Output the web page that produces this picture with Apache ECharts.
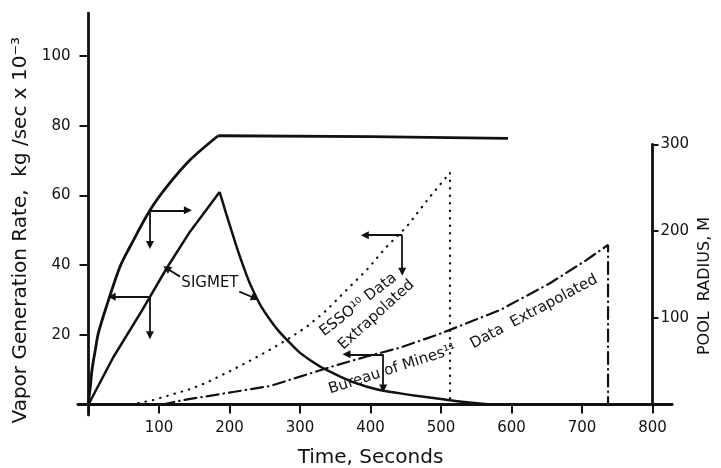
<!DOCTYPE html>
<html>
<head>
<meta charset="utf-8">
<title>Vapor Generation Rate</title>
<script src="https://cdn.jsdelivr.net/npm/echarts@6/dist/echarts.min.js"></script>
<style>
html,body{margin:0;padding:0;background:#fff;}
#chart{width:721px;height:468px;}
</style>
</head>
<body>
<div id="chart"></div>
<script>
// pool radius (s, m) - right axis
var poolTime   = [0, 1, 2.6, 5, 9.7, 13.9, 25.8, 44.7, 58.9, 87.2, 110.9, 144, 184, 400, 595];
var poolRadius = [0, 10, 20, 40, 63, 82, 114, 159, 182, 224, 251, 282, 310, 309, 307];
// SIGMET vapor rate (s, kg/sec x 10^-3)
var sigmetTime = [0, 35, 76, 87.2, 110.9, 144, 186, 205, 220, 234, 253, 286, 314, 347, 395, 442, 500, 540, 570];
var sigmetRate = [0, 13.5, 27, 30.9, 39.1, 49.6, 61, 48.5, 39.5, 32.5, 25.6, 17.6, 12.8, 9, 5.1, 3.2, 1.6, 0.6, 0];
// ESSO data extrapolated
var essoTime = [60, 92, 115.6, 144, 167.7, 200.7, 224, 252.8, 281, 309.5, 337.9, 366.2, 394.6, 423, 451.3, 484.4, 512.8, 512.8];
var essoRate = [0, 1.3, 2.7, 4.4, 6.3, 9.6, 12, 15.2, 18.5, 22.3, 27.1, 32.9, 38.6, 45.3, 51, 59.6, 66.5, 0];
// Bureau of Mines data extrapolated
var bureauTime = [105, 134.5, 162.8, 205, 257.4, 300, 347, 394.6, 441.8, 498.6, 583.7, 654.6, 706.7, 737, 737];
var bureauRate = [0, 1.3, 2.2, 3.6, 5.3, 8, 11, 13.8, 16.3, 20.3, 27.1, 34.8, 41.5, 45.8, 0];

// arrows [from, to] in data units
var poolArrows   = [[[87.2, 224], [141, 224]], [[87.2, 224], [87.2, 184]]];
var sigmetArrows = [[[87.2, 30.9], [32.9, 30.9]], [[87.2, 30.9], [87.2, 19.9]],
                    [[129.8, 36.7], [110.9, 39.1]], [[213.9, 32.4], [236.2, 30.5]]];
var essoArrows   = [[[445, 48.6], [392, 48.6]], [[445, 48.6], [445, 38.1]]];
var bureauArrows = [[[418, 14.4], [366, 14.4]], [[418, 14.4], [418, 4.6]]];

// curve notes: text, time, rate, angle
var noteText  = ['SIGMET', 'ESSO\u00b9\u2070 Data', 'Extrapolated', 'Bureau of Mines\u00b9\u00b9', 'Data  Extrapolated'];
var noteTime  = [172.3, 382.7, 408.5, 431.2, 631.9];
var noteRate  = [34.8, 28.6, 25.7, 10.1, 26.6];
var noteAngle = [0, 38, 42, 18, 28];

var FONT = '"DejaVu Sans"';
var INK = '#111';
var unitPx = 3.4857;   // px per left unit
var meterPx = 0.867;   // px per metre on right axis
var k = unitPx / meterPx;

function pairs(xs, ys, from, to) {
	var out = [];
	for (var i = from; i <= to; i++) out.push([xs[i], ys[i]]);
	return out;
}
function peakIndex(ys) {
	return ys.indexOf(Math.max.apply(null, ys));
}
function arrowLines(list) {
	return {
		silent: true,
		animation: false,
		symbol: ['none', 'triangle'],
		symbolSize: 8,
		label: { show: false },
		lineStyle: { color: INK, width: 1.8, type: 'solid' },
		itemStyle: { color: INK },
		data: list.map(function (a) { return [{ coord: a[0] }, { coord: a[1] }]; })
	};
}
function hideZero(v) { return v === 0 ? '' : v; }
function curve(name, xs, ys, from, to, yIdx, width, smooth, marks) {
	var s = {
		name: name, type: 'line', xAxisIndex: 0, yAxisIndex: yIdx,
		data: pairs(xs, ys, from, to), showSymbol: false, symbol: 'none',
		smooth: smooth,
		lineStyle: { color: INK, width: width }
	};
	if (marks) s.markLine = arrowLines(marks);
	return s;
}

var poolTop = peakIndex(poolRadius);
var sigmetTop = peakIndex(sigmetRate);

var chart = echarts.init(document.getElementById('chart'));
var lineOption = {
	animation: false,
	backgroundColor: '#fff',
	textStyle: { fontFamily: FONT, color: INK },
	grid: [
		{ left: 77.9, right: 48.8, top: 13.1, bottom: 53, outerBoundsMode: 'none' },
		{ left: 88.5, right: 68.5, top: 56, bottom: 63.5, outerBoundsMode: 'none' },
		{ left: 88.5, right: 68.5, top: 144.4, bottom: 63.5, outerBoundsMode: 'none' }
	],
	xAxis: [
		{	// main axis line
			gridIndex: 0, type: 'value', min: -15, max: 828,
			axisLine: { lineStyle: { color: INK, width: 2.8 } },
			axisTick: { show: false }, axisLabel: { show: false }, splitLine: { show: false }
		},
		{	// ticks + labels
			gridIndex: 1, type: 'value', min: 0, max: 800, interval: 100,
			axisLine: { show: false, onZero: false },
			axisTick: { show: true, length: 9, lineStyle: { color: INK, width: 2 } },
			axisLabel: { margin: 16, fontSize: 15, color: INK, fontFamily: FONT, formatter: hideZero },
			splitLine: { show: false },
			name: 'Time, Seconds', nameLocation: 'middle', nameGap: 43,
			nameTextStyle: { fontSize: 20, color: INK, fontFamily: FONT }
		},
		{ gridIndex: 2, type: 'value', min: 0, max: 800, show: false }
	],
	yAxis: [
		{	// main axis line
			gridIndex: 0, type: 'value', min: -3, max: 112.3,
			axisLine: { lineStyle: { color: INK, width: 2.8 } },
			axisTick: { show: false }, axisLabel: { show: false }, splitLine: { show: false }
		},
		{	// hidden metres scale in main grid
			gridIndex: 0, type: 'value', min: -3 * k, max: 112.3 * k, show: false
		},
		{	// left ticks + labels
			gridIndex: 1, type: 'value', min: 0, max: 100, interval: 20,
			axisLine: { show: false, onZero: false },
			axisTick: { show: true, length: 9, lineStyle: { color: INK, width: 2 } },
			axisLabel: { margin: 18, fontSize: 15, color: INK, fontFamily: FONT, formatter: hideZero },
			splitLine: { show: false },
			name: 'Vapor Generation Rate,  kg /sec x 10\u207b\u00b3', nameLocation: 'middle', nameGap: 56,
			nameTextStyle: { fontSize: 20, color: INK, fontFamily: FONT }
		},
		{	// pool radius axis
			gridIndex: 2, type: 'value', position: 'right', min: 0, max: 300, interval: 100,
			axisLine: { show: true, onZero: false, lineStyle: { color: INK, width: 2.8 } },
			axisTick: { show: true, length: 6, lineStyle: { color: INK, width: 2 } },
			axisLabel: { margin: 8, fontSize: 15, color: INK, fontFamily: FONT, formatter: hideZero },
			splitLine: { show: false }
		}
	],
	series: [
		curve('Pool radius', poolTime, poolRadius, 0, poolTop, 1, 2.8, 0.3, poolArrows),
		curve('Pool radius', poolTime, poolRadius, poolTop, poolTime.length - 1, 1, 2.8, false),
		curve('SIGMET', sigmetTime, sigmetRate, 0, sigmetTop, 0, 2.5, false, sigmetArrows),
		curve('SIGMET', sigmetTime, sigmetRate, sigmetTop, sigmetTime.length - 1, 0, 2.5, 0.5),
		{
			name: 'ESSO', type: 'line', xAxisIndex: 0, yAxisIndex: 0,
			data: pairs(essoTime, essoRate, 0, essoTime.length - 1), showSymbol: false, symbol: 'none',
			lineStyle: { color: INK, width: 2.2, type: [0.5, 7], cap: 'round' },
			markLine: arrowLines(essoArrows)
		},
		{
			name: 'Bureau of Mines', type: 'line', xAxisIndex: 0, yAxisIndex: 0,
			data: pairs(bureauTime, bureauRate, 0, bureauTime.length - 1), showSymbol: false, symbol: 'none',
			lineStyle: { color: INK, width: 2.2, type: [12, 5, 0.5, 5], cap: 'round' },
			markLine: arrowLines(bureauArrows)
		}
	]
};
chart.setOption(lineOption);

// notes placed through the data scale
var notes = [];
for (var i = 0; i < noteText.length; i++) {
	var p = chart.convertToPixel({ xAxisIndex: 0, yAxisIndex: 0 }, [noteTime[i], noteRate[i]]);
	notes.push({
		type: 'text', x: p[0], y: p[1], rotation: noteAngle[i] * Math.PI / 180, silent: true,
		style: {
			text: noteText[i], font: '15px ' + FONT, fill: INK,
			align: 'center', verticalAlign: 'middle', textAlign: 'center', textVerticalAlign: 'middle'
		}
	});
}
// right axis title
notes.push({
	type: 'text', x: 705, y: 286, rotation: Math.PI / 2, silent: true,
	style: {
		text: 'POOL  RADIUS, M', font: '16px ' + FONT, fill: INK,
		align: 'center', verticalAlign: 'middle', textAlign: 'center', textVerticalAlign: 'middle'
	}
});
chart.setOption({ graphic: notes });
</script>
</body>
</html>
